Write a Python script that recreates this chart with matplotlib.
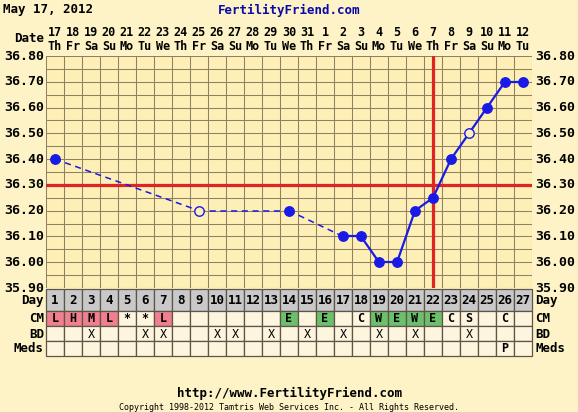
import matplotlib
matplotlib.use("Agg")
import matplotlib.pyplot as plt
from matplotlib.patches import Rectangle
from matplotlib.transforms import blended_transform_factory
import numpy as np

# ---------------- data ----------------
cycle_days = list(range(1, 28))
date_labels = ['17', '18', '19', '20', '21', '22', '23', '24', '25', '26', '27', '28', '29', '30', '31',
               '1', '2', '3', '4', '5', '6', '7', '8', '9', '10', '11', '12']
weekday_labels = ['Th', 'Fr', 'Sa', 'Su', 'Mo', 'Tu', 'We', 'Th', 'Fr', 'Sa', 'Su', 'Mo', 'Tu', 'We',
                  'Th', 'Fr', 'Sa', 'Su', 'Mo', 'Tu', 'We', 'Th', 'Fr', 'Sa', 'Su', 'Mo', 'Tu']
temp_days = [1, 9, 14, 17, 18, 19, 20, 21, 22, 23, 24, 25, 26, 27]
temps = [36.40, 36.20, 36.20, 36.10, 36.10, 36.00, 36.00, 36.20, 36.25, 36.40, 36.50, 36.60, 36.70, 36.70]
open_days = [9, 24]
coverline = 36.30
ovulation_day = 22
ytick_values = [36.80, 36.70, 36.60, 36.50, 36.40, 36.30, 36.20, 36.10, 36.00, 35.90]
cm_values = ['L', 'H', 'M', 'L', '*', '*', 'L', '', '', '', '', '', '', 'E', '', 'E', '', 'C',
             'W', 'E', 'W', 'E', 'C', 'S', '', 'C', '']
bd_days = [3, 6, 7, 10, 11, 13, 15, 17, 19, 21, 24]
meds_values = {26: 'P'}
row_names = ['Day', 'CM', 'BD', 'Meds']

# ---------------- style ----------------
W, H = 578, 412
FIG_BG = '#fdf3c6'
PLOT_BG = '#fdefb5'
GRID = '#8f8162'
CELL_BG = '#fdf5de'
DAY_BG = '#c9c9c9'
PINK = '#f0808f'
GREEN = '#6cc06c'
RED = '#e02424'
BLUE = '#1a1ae6'
FONT = 'DejaVu Sans Mono'
FS = 9

fig = plt.figure(figsize=(W / 100, H / 100), dpi=100, facecolor=FIG_BG)

def fx(px):
    return px / W

def fy(py):
    return 1 - py / H

left_px, right_px = 46, 532
top_px, bot_px = 56, 288
ax = fig.add_axes([fx(left_px), fy(bot_px), fx(right_px - left_px), (bot_px - top_px) / H])
ax.set_facecolor(PLOT_BG)
ax.set_xlim(0.5, 27.5)
ax.set_ylim(35.90, 36.80)
for s in ax.spines.values():
    s.set_visible(False)
ax.set_xticks([])
ax.set_yticks([])

# grid
for b in np.arange(0.5, 28.0, 1.0):
    ax.axvline(b, color=GRID, lw=0.75, zorder=1)
for t in np.arange(35.90, 36.801, 0.05):
    ax.axhline(t, color=GRID, lw=0.75, zorder=1)

# coverline / ovulation
ax.axhline(coverline, color=RED, lw=2.3, zorder=2)
ax.axvline(ovulation_day, color=RED, lw=2.3, zorder=2)

# temperature line segments
for i in range(len(temp_days) - 1):
    d0, d1 = temp_days[i], temp_days[i + 1]
    if d1 - d0 > 1:
        ax.plot([d0, d1], [temps[i], temps[i + 1]], color=BLUE, lw=1.1, ls=(0, (4, 3)), zorder=3)
    else:
        ax.plot([d0, d1], [temps[i], temps[i + 1]], color=BLUE, lw=1.6, zorder=3)

for d, t in zip(temp_days, temps):
    if d in open_days:
        ax.plot(d, t, 'o', ms=6.8, mfc=PLOT_BG, mec=BLUE, mew=1.0, zorder=4)
    else:
        ax.plot(d, t, 'o', ms=6.8, mfc=BLUE, mec=BLUE, zorder=4)

# y tick labels
for v in ytick_values:
    ax.text(0.5 - 2 / 18, v, f'{v:.2f}', ha='right', va='center', fontsize=9.5, family=FONT,
            weight='bold', color='black', clip_on=False)
    ax.text(27.5 + 3 / 18, v, f'{v:.2f}', ha='left', va='center', fontsize=9.5, family=FONT,
            weight='bold', color='black', clip_on=False)

# date header
bt = blended_transform_factory(ax.transData, fig.transFigure)
for d, dl, wl in zip(cycle_days, date_labels, weekday_labels):
    ax.text(d, fy(33), dl, transform=bt, ha='center', va='center', fontsize=8.5, family=FONT,
            weight='bold', clip_on=False)
    ax.text(d, fy(46), wl, transform=bt, ha='center', va='center', fontsize=8.5, family=FONT,
            weight='bold', clip_on=False)
fig.text(fx(44), fy(39), 'Date', ha='right', va='center', fontsize=FS, family=FONT, weight='bold')

# title texts
fig.text(fx(3), fy(10), 'May 17, 2012', ha='left', va='center', fontsize=FS, family=FONT,
         weight='bold')
fig.text(fx(289), fy(10), 'FertilityFriend.com', ha='center', va='center', fontsize=FS,
         family=FONT, weight='bold', color='#0a0aa8')
fig.text(fx(289), fy(393), 'http://www.FertilityFriend.com', ha='center', va='center',
         fontsize=FS, family=FONT, weight='bold')
fig.text(fx(289), fy(407), 'Copyright 1998-2012 Tamtris Web Services Inc. - All Rights Reserved.',
         ha='center', va='center', fontsize=6, family=FONT)

# ---------------- table ----------------
tab_top, tab_bot = 289, 356
tax = fig.add_axes([fx(left_px), fy(tab_bot), fx(right_px - left_px), (tab_bot - tab_top) / H])
tax.set_xlim(0.5, 27.5)
tax.set_ylim(tab_bot - tab_top, 0)
tax.axis('off')
row_edges = [0, 22, 37, 52, 67]

for d in cycle_days:
    cm = cm_values[d - 1]
    bd = 'X' if d in bd_days else ''
    med = meds_values.get(d, '')
    cm_col = CELL_BG
    if cm in ('L', 'H', 'M'):
        cm_col = PINK
    elif cm in ('E', 'W'):
        cm_col = GREEN
    texts = [str(d), cm, bd, med]
    colors = [DAY_BG, cm_col, CELL_BG, CELL_BG]
    for r in range(4):
        y0, y1 = row_edges[r], row_edges[r + 1]
        tax.add_patch(Rectangle((d - 0.5, y0), 1, y1 - y0, facecolor=colors[r], edgecolor='#5e5548',
                                lw=0.9, clip_on=False))
        if texts[r]:
            tax.text(d, (y0 + y1) / 2 + 0.5, texts[r], ha='center', va='center',
                     fontsize=9 if r == 0 else 8.5, family=FONT,
                     weight='bold' if r != 2 else 'normal', clip_on=False)

for r, name in enumerate(row_names):
    yc = (row_edges[r] + row_edges[r + 1]) / 2 + 0.5
    tax.text(0.5 - 2 / 18, yc, name, ha='right', va='center', fontsize=FS, family=FONT,
             weight='bold', clip_on=False)
    tax.text(27.5 + 3 / 18, yc, name, ha='left', va='center', fontsize=FS, family=FONT,
             weight='bold', clip_on=False)

fig.savefig('out.png', dpi=100, facecolor=FIG_BG)
